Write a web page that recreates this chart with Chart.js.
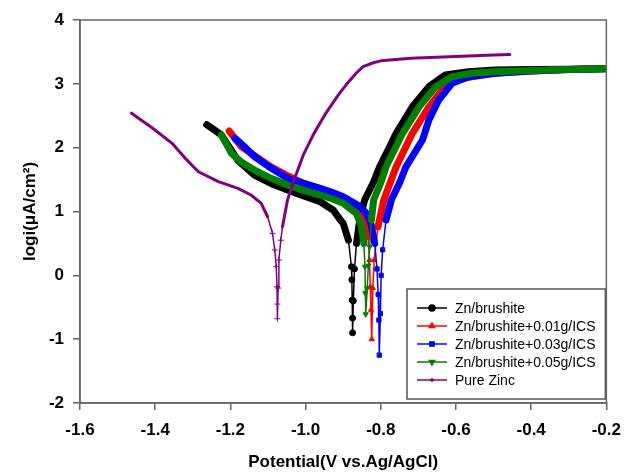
<!DOCTYPE html>
<html>
<head>
<meta charset="utf-8">
<script src="https://cdn.jsdelivr.net/npm/chart.js@4.4.1/dist/chart.umd.min.js"></script>
<style>
  body { margin: 0; background: #fff; }
  canvas { display: block; }
</style>
</head>
<body>
<canvas id="tafelChart" width="631" height="473"></canvas>
<script>
// Potential (V vs Ag/AgCl) and log i values
const brushiteV = [-1.263, -1.224, -1.18, -1.136, -1.092, -1.048, -1.005, -0.961, -0.926, -0.908, -0.900, -0.886, -0.878, -0.877, -0.876, -0.875, -0.875, -0.873, -0.870, -0.8645, -0.856, -0.843, -0.820, -0.803, -0.780, -0.759, -0.716, -0.672, -0.628, -0.567, -0.497, -0.40, -0.30, -0.20];
const brushiteL = [2.36, 2.20, 1.80, 1.57, 1.44, 1.337, 1.243, 1.153, 1.02, 0.87, 0.815, 0.55, 0.135, -0.07, -0.39, -0.67, -0.90, -0.40, 0.10, 0.50, 0.867, 1.18, 1.45, 1.70, 1.97, 2.225, 2.64, 2.955, 3.14, 3.19, 3.217, 3.225, 3.23, 3.235];

const ics001V = [-1.203, -1.171, -1.13, -1.092, -1.048, -1.005, -0.961, -0.917, -0.880, -0.865, -0.847, -0.834, -0.830, -0.828, -0.826, -0.824, -0.821, -0.8175, -0.8075, -0.792, -0.775, -0.759, -0.716, -0.672, -0.637, -0.602, -0.558, -0.497, -0.40, -0.30, -0.20];
const ics001L = [2.26, 2.015, 1.85, 1.70, 1.56, 1.44, 1.35, 1.26, 1.15, 1.075, 0.92, 0.605, 0.24, -0.18, -0.54, -1.00, -0.20, 0.24, 0.76, 1.18, 1.45, 1.70, 2.225, 2.64, 2.90, 3.06, 3.11, 3.165, 3.20, 3.225, 3.24];

const ics003V = [-1.188, -1.16, -1.136, -1.092, -1.048, -1.005, -0.961, -0.930, -0.900, -0.856, -0.838, -0.826, -0.816, -0.810, -0.807, -0.805, -0.804, -0.801, -0.799, -0.795, -0.786, -0.772, -0.750, -0.733, -0.710, -0.689, -0.672, -0.646, -0.6105, -0.567, -0.497, -0.40, -0.30, -0.20];
const ics003L = [2.15, 2.00, 1.86, 1.68, 1.52, 1.44, 1.363, 1.30, 1.232, 1.08, 0.97, 0.80, 0.50, 0.10, -0.30, -0.70, -1.25, -0.60, 0.00, 0.40, 0.867, 1.18, 1.45, 1.70, 1.92, 2.12, 2.433, 2.747, 3.008, 3.11, 3.165, 3.20, 3.225, 3.235];

const ics005V = [-1.224, -1.197, -1.17, -1.136, -1.092, -1.048, -1.005, -0.961, -0.930, -0.900, -0.865, -0.851, -0.845, -0.842, -0.841, -0.840, -0.836, -0.833, -0.8295, -0.825, -0.819, -0.800, -0.786, -0.742, -0.698, -0.654, -0.6105, -0.558, -0.497, -0.40, -0.30, -0.20];
const ics005L = [2.20, 1.91, 1.77, 1.65, 1.52, 1.415, 1.33, 1.258, 1.20, 1.128, 0.97, 0.76, 0.50, 0.135, -0.28, -0.61, -0.20, 0.15, 0.448, 0.867, 1.18, 1.45, 1.70, 2.225, 2.64, 2.955, 3.11, 3.165, 3.19, 3.21, 3.225, 3.24];

const pureZnV = [-1.463, -1.4075, -1.355, -1.320, -1.285, -1.232, -1.180, -1.145, -1.118, -1.101, -1.088, -1.082, -1.078, -1.076, -1.075, -1.075, -1.073, -1.071, -1.066, -1.0615, -1.048, -1.031, -1.005, -0.978, -0.945, -0.91, -0.89, -0.865, -0.847, -0.82, -0.80, -0.72, -0.60, -0.50, -0.457];
const pureZnL = [2.54, 2.308, 2.068, 1.833, 1.623, 1.467, 1.363, 1.258, 1.128, 0.918, 0.658, 0.397, 0.135, -0.18, -0.45, -0.68, -0.20, 0.24, 0.55, 0.76, 1.18, 1.49, 1.90, 2.22, 2.55, 2.85, 3.00, 3.17, 3.27, 3.33, 3.36, 3.40, 3.43, 3.45, 3.46];

const seriesLabels = ['Zn/brushite', 'Zn/brushite+0.01g/ICS', 'Zn/brushite+0.03g/ICS', 'Zn/brushite+0.05g/ICS', 'Pure Zinc'];
const xTicks = [-1.6, -1.4, -1.2, -1.0, -0.8, -0.6, -0.4, -0.2];
const yTicks = [-2, -1, 0, 1, 2, 3, 4];

function toPoints(xs, ys) {
    return xs.map((x, i) => ({ x: x, y: ys[i] }));
}

// thick (dense markers) line above the dip, thin line with markers inside it
function curve(label, xs, ys, color, style, rotation, thick, cut, order) {
    return {
        label: label,
        data: toPoints(xs, ys),
        showLine: true,
        borderColor: color,
        backgroundColor: color,
        pointStyle: style,
        rotation: rotation,
        borderCapStyle: 'round',
        borderJoinStyle: 'round',
        pointRadius: ctx => (ctx.raw && ctx.raw.y < cut ? 3 : 0),
        pointBorderWidth: 1,
        borderWidth: thick,
        segment: {
            borderWidth: ctx => (Math.min(ctx.p0.parsed.y, ctx.p1.parsed.y) < cut ? 1.5 : thick)
        },
        order: order
    };
}

const FONT = '"Liberation Sans", Arial, sans-serif';

const boxLegend = {
    id: 'boxLegend',
    afterDatasetsDraw(chart) {
        const ctx = chart.ctx;
        const a = chart.chartArea;
        const left = a.left + 327, top = a.top + 269, right = a.right - 1, bottom = a.bottom - 4;
        ctx.save();
        ctx.fillStyle = '#fff';
        ctx.fillRect(left, top, right - left, bottom - top);
        ctx.strokeStyle = '#555';
        ctx.lineWidth = 1.5;
        ctx.strokeRect(left, top, right - left, bottom - top);
        ctx.font = '14px ' + FONT;
        ctx.textBaseline = 'middle';
        chart.data.datasets.forEach((ds, i) => {
            const y = top + 19 + i * 18;
            ctx.strokeStyle = ds.borderColor;
            ctx.lineWidth = 1.5;
            ctx.beginPath();
            ctx.moveTo(left + 10, y);
            ctx.lineTo(left + 40, y);
            ctx.stroke();
            Chart.helpers.drawPoint(ctx, {
                pointStyle: ds.pointStyle,
                rotation: ds.rotation,
                radius: i === 4 ? 2 : 3,
                borderWidth: 1
            }, left + 25, y);
            ctx.fillStyle = ds.borderColor;
            ctx.fill();
            ctx.fillStyle = '#000';
            ctx.fillText(ds.label, left + 48, y + 1);
        });
        ctx.restore();
    },
    afterDraw(chart) {
        const a = chart.chartArea;
        const ctx = chart.ctx;
        ctx.save();
        ctx.strokeStyle = '#666';
        ctx.lineWidth = 1.5;
        ctx.strokeRect(a.left, a.top, a.right - a.left, a.bottom - a.top);
        ctx.restore();
    }
};

document.addEventListener('DOMContentLoaded', function() {
    const ctx = document.getElementById('tafelChart').getContext('2d');

    new Chart(ctx, {
        type: 'scatter',
        data: {
            datasets: [
                curve(seriesLabels[0], brushiteV, brushiteL, '#000000', 'circle', 0, 7, 0.45, 5),
                curve(seriesLabels[1], ics001V, ics001L, '#ff0000', 'triangle', 0, 7, 0.5, 4),
                curve(seriesLabels[2], ics003V, ics003L, '#0000ff', 'rect', 0, 7, 0.45, 3),
                curve(seriesLabels[3], ics005V, ics005L, '#008000', 'triangle', 180, 7, 0.45, 2),
                curve(seriesLabels[4], pureZnV, pureZnL, '#800080', 'cross', 0, 3, 0.7, 1)
            ]
        },
        options: {
            responsive: false,
            animation: false,
            layout: { padding: { top: 20, right: 18, left: 0, bottom: 0 } },
            plugins: {
                legend: { display: false },
                tooltip: { enabled: false }
            },
            scales: {
                x: {
                    type: 'linear',
                    min: -1.6,
                    max: -0.2,
                    afterFit: s => { s.height = 70; },
                    afterBuildTicks: s => { s.ticks = xTicks.map(v => ({ value: v })); },
                    ticks: {
                        color: '#000',
                        padding: 10,
                        font: { family: FONT, size: 17, weight: 'bold' },
                        callback: v => v.toFixed(1)
                    },
                    grid: { drawOnChartArea: false, tickLength: 7, color: '#666', lineWidth: 1.5 },
                    border: { color: '#666', width: 1.5 },
                    title: {
                        display: true,
                        text: 'Potential(V vs.Ag/AgCl)',
                        color: '#000',
                        font: { family: FONT, size: 17, weight: 'bold' },
                        padding: { top: 0, bottom: 0 }
                    }
                },
                y: {
                    min: -2,
                    max: 4,
                    afterFit: s => { s.width = 80; },
                    afterBuildTicks: s => { s.ticks = yTicks.map(v => ({ value: v })); },
                    ticks: {
                        color: '#000',
                        padding: 9,
                        font: { family: FONT, size: 17, weight: 'bold' }
                    },
                    grid: { drawOnChartArea: false, tickLength: 7, color: '#666', lineWidth: 1.5 },
                    border: { color: '#666', width: 1.5 },
                    title: {
                        display: true,
                        text: 'logi(μA/cm²)',
                        color: '#000',
                        font: { family: FONT, size: 17, weight: 'bold' },
                        padding: { top: 20, bottom: 0 }
                    }
                }
            }
        },
        plugins: [boxLegend]
    });
});
</script>
</body>
</html>
